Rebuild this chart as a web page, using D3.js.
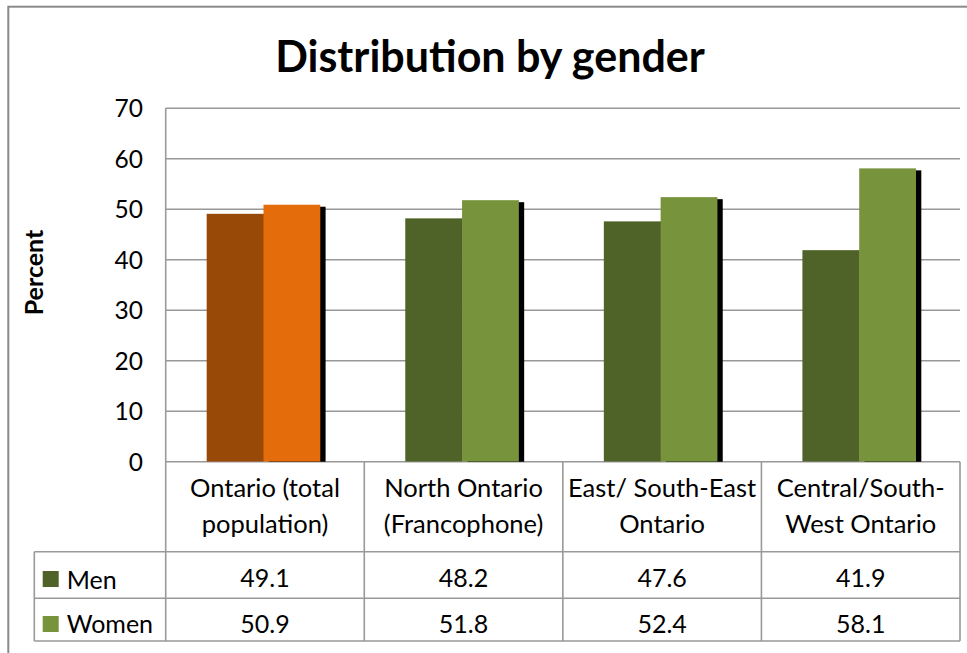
<!DOCTYPE html>
<html><head><meta charset="utf-8">
<script src="https://cdn.jsdelivr.net/npm/d3@7"></script>
<style>body{margin:0;background:#fff;overflow:hidden}text{font-family:Lato,"Noto Sans",sans-serif;fill:#000}</style>
</head><body><svg id="c" width="967" height="653"></svg>
<script>
// ---- data ----
const categories = ["Ontario (total population)", "North Ontario (Francophone)", "East/ South-East Ontario", "Central/South-West Ontario"];
const categoryLines = [["Ontario (total", "population)"], ["North Ontario", "(Francophone)"], ["East/ South-East", "Ontario"], ["Central/South-", "West Ontario"]];
const seriesNames = ["Men", "Women"];
const men = [49.1, 48.2, 47.6, 41.9];
const women = [50.9, 51.8, 52.4, 58.1];
const yTicks = [0, 10, 20, 30, 40, 50, 60, 70];
const title = "Distribution by gender";
const yLabel = "Percent";

// ---- style ----
const menColors = ["#984807", "#4F6228", "#4F6228", "#4F6228"];
const womenColors = ["#E46C0A", "#77933C", "#77933C", "#77933C"];
const legendColors = ["#4F6228", "#77933C"];
const lineCol = "#999";

const svg = d3.select("#c");
const plotL = 165.7, plotR = 960, plotT = 108.3, plotB = 461.7;
const row1 = 551.7, row2 = 598.3, row3 = 641, tableL = 34.3;

// frame
svg.append("rect").attr("x", 8.3).attr("y", 6.7).attr("width", 990).attr("height", 700)
  .attr("fill", "none").attr("stroke", "#8a8a8a").attr("stroke-width", 2);

const x = d3.scaleBand().domain(categories).range([plotL, plotR]).padding(0);
const xs = d3.scaleBand().domain(seriesNames).range([0, x.bandwidth()]).paddingInner(0).paddingOuter(0.748);
const y = d3.scaleLinear().domain([0, 70]).range([plotB, plotT]);

// gridlines
svg.append("g").selectAll("line").data(yTicks).join("line")
  .attr("x1", plotL).attr("x2", plotR).attr("y1", d => y(d)).attr("y2", d => y(d))
  .attr("stroke", "#989898").attr("stroke-width", 1.6);

// y tick labels
svg.append("g").selectAll("text").data(yTicks).join("text")
  .attr("x", 143).attr("y", d => y(d)).attr("dy", "0.36em")
  .attr("text-anchor", "end").style("font-size", "24.5px").text(d => d);

// y label
svg.append("text").attr("transform", "translate(34,272.5) rotate(-90)")
  .attr("text-anchor", "middle").attr("dy", "0.36em")
  .style("font-size", "25px").style("font-weight", "bold").text(yLabel);

// bars
svg.append("defs").append("clipPath").attr("id", "pc").append("rect")
  .attr("x", plotL).attr("y", 0).attr("width", 820).attr("height", plotB);
const shift = -1.5;
const bars = svg.append("g").attr("clip-path", "url(#pc)");
const data = categories.map((c, i) => ({c, i, men: men[i], women: women[i]}));
// shadows
bars.selectAll("rect.sh").data(data).join("rect").attr("class", "sh")
  .attr("x", d => x(d.c) + xs("Women") + shift + 5.3)
  .attr("y", d => y(d.women) + 2)
  .attr("width", xs.bandwidth()).attr("height", d => plotB - y(d.women))
  .attr("fill", "#000");
bars.selectAll("rect.m").data(data).join("rect").attr("class", "m")
  .attr("x", d => x(d.c) + xs("Men") + shift).attr("y", d => y(d.men))
  .attr("width", xs.bandwidth() + 0.5).attr("height", d => plotB - y(d.men))
  .attr("fill", d => menColors[d.i]);
bars.selectAll("rect.w").data(data).join("rect").attr("class", "w")
  .attr("x", d => x(d.c) + xs("Women") + shift).attr("y", d => y(d.women))
  .attr("width", xs.bandwidth()).attr("height", d => plotB - y(d.women))
  .attr("fill", d => womenColors[d.i]);

// table lines
const tl = svg.append("g").attr("stroke", lineCol).attr("stroke-width", 1.6);
tl.append("line").attr("x1", plotL).attr("x2", plotL).attr("y1", plotT).attr("y2", row3);
tl.append("line").attr("x1", tableL).attr("x2", tableL).attr("y1", row1).attr("y2", row3);
[row1, row2, row3].forEach(r => tl.append("line").attr("x1", tableL).attr("x2", plotR).attr("y1", r).attr("y2", r));
categories.forEach(c => {
  const xe = x(c) + x.bandwidth();
  tl.append("line").attr("x1", xe).attr("x2", xe).attr("y1", plotB).attr("y2", row3);
});

// category labels
const cg = svg.append("g");
categories.forEach((c, i) => {
  categoryLines[i].forEach((ln, j) => {
    cg.append("text").attr("x", x(c) + x.bandwidth() / 2).attr("y", 497.3 + j * 36)
      .attr("text-anchor", "middle").style("font-size", "25.5px").text(ln);
  });
  cg.append("text").attr("x", x(c) + x.bandwidth() / 2).attr("y", 587.3)
    .attr("text-anchor", "middle").style("font-size", "25px").text(men[i].toFixed(1));
  cg.append("text").attr("x", x(c) + x.bandwidth() / 2).attr("y", 633)
    .attr("text-anchor", "middle").style("font-size", "25px").text(women[i].toFixed(1));
});

// legend in table
const legY = [571, 616], legBase = [589, 633];
seriesNames.forEach((s, i) => {
  svg.append("rect").attr("x", 42.7).attr("y", legY[i]).attr("width", 16).attr("height", 16).attr("fill", legendColors[i]);
  svg.append("text").attr("x", 66.7).attr("y", legBase[i]).style("font-size", "25px").text(s);
});

// title
svg.append("text").attr("x", 490).attr("y", 72).attr("text-anchor", "middle")
  .style("font-size", "43px").style("font-weight", "bold").text(title);
</script></body></html>
